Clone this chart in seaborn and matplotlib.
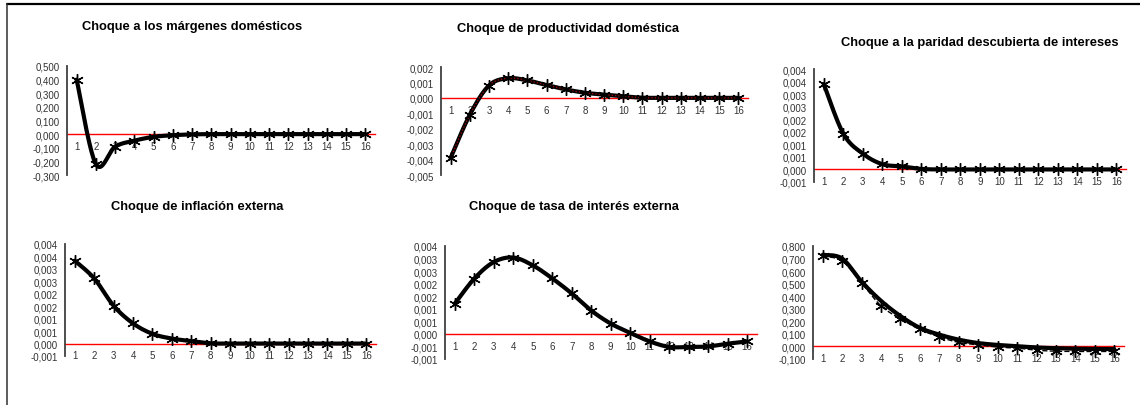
import numpy as np
import seaborn as sns
import matplotlib.pyplot as plt
from matplotlib.lines import Line2D

sns.set_style('white')
plt.rcParams['font.family'] = ['Liberation Sans', 'DejaVu Sans']

periods = list(range(1, 17))

titles = ['Choque a los márgenes domésticos',
          'Choque de productividad doméstica',
          'Choque a la paridad descubierta de intereses',
          'Choque de inflación externa',
          'Choque de tasa de interés externa',
          '']

margenes = [0.400, -0.220, -0.092, -0.048, -0.020, -0.008, -0.002, 0.000,
            0.000, 0.000, 0.000, 0.000, 0.000, 0.000, 0.000, 0.000]
productividad = [-0.0039, -0.0011, 0.0008, 0.00127, 0.00113, 0.00083, 0.00055, 0.00033,
                 0.00021, 0.0001, 0.00001, 0.0, 0.0, 0.0, 0.0, 0.0]
paridad = [0.0034, 0.00143, 0.00063, 0.00021, 0.00012, 0.00002, 0.0, 0.0,
           0.0, 0.0, 0.0, 0.0, 0.0, 0.0, 0.0, 0.0]
inflacion = [0.00333, 0.00262, 0.00152, 0.00081, 0.00039, 0.0002, 0.0001, 0.00001,
             0.0, 0.0, 0.0, 0.0, 0.0, 0.0, 0.0, 0.0]
tasa = [0.0012, 0.0022, 0.00286, 0.00304, 0.00273, 0.00221, 0.00161, 0.00093,
        0.00041, 0.00004, -0.0003, -0.00052, -0.00052, -0.0005, -0.00039, -0.0003]
ultimo_a = [0.73, 0.70, 0.516, 0.363, 0.242, 0.148, 0.094, 0.054,
            0.027, 0.012, 0.002, -0.008, -0.014, -0.018, -0.020, -0.021]
ultimo_b = [0.72, 0.68, 0.505, 0.323, 0.220, 0.135, 0.076, 0.032,
            0.013, -0.005, -0.013, -0.030, -0.038, -0.040, -0.040, -0.040]

# y ticks (Excel rounds labels to 3 decimals, hence the repeats)
ticks_a = [-0.3, -0.2, -0.1, 0.0, 0.1, 0.2, 0.3, 0.4, 0.5]
labels_a = ['-0,300', '-0,200', '-0,100', '0,000', '0,100', '0,200', '0,300', '0,400', '0,500']
ticks_b = [-0.005, -0.004, -0.003, -0.002, -0.001, 0.0, 0.001, 0.002]
labels_b = ['-0,005', '-0,004', '-0,003', '-0,002', '-0,001', '0,000', '0,001', '0,002']
ticks_c = [-0.0005, 0.0, 0.0005, 0.001, 0.0015, 0.002, 0.0025, 0.003, 0.0035, 0.004]
labels_c = ['-0,001', '0,000', '0,001', '0,001', '0,002', '0,002', '0,003', '0,003', '0,004', '0,004']
ticks_d = [-0.001, -0.0005, 0.0, 0.0005, 0.001, 0.0015, 0.002, 0.0025, 0.003, 0.0035]
labels_d = ['-0,001', '-0,001', '0,000', '0,001', '0,001', '0,002', '0,002', '0,003', '0,003', '0,004']
ticks_e = [-0.1, 0.0, 0.1, 0.2, 0.3, 0.4, 0.5, 0.6, 0.7, 0.8]
labels_e = ['-0,100', '0,000', '0,100', '0,200', '0,300', '0,400', '0,500', '0,600', '0,700', '0,800']


def smooth(x, y, n=24):
    # Excel-style smoothed line (cubic bezier, tension 1/6)
    p = np.column_stack([x, y]).astype(float)
    ext = np.vstack([p[0], p, p[-1]])
    t = np.linspace(0, 1, n)[:, None]
    out = []
    for i in range(len(p) - 1):
        p0, p1 = ext[i + 1], ext[i + 2]
        c1 = p0 + (ext[i + 2] - ext[i]) / 6
        c2 = p1 - (ext[i + 3] - ext[i + 1]) / 6
        seg = ((1 - t) ** 3) * p0 + 3 * ((1 - t) ** 2) * t * c1 + 3 * (1 - t) * t ** 2 * c2 + t ** 3 * p1
        out.append(seg if i == 0 else seg[1:])
    out = np.vstack(out)
    return out[:, 0], out[:, 1]


W, H = 1140, 406
fig = plt.figure(figsize=(W / 100, H / 100), dpi=100)

# pixel boxes: left, right, top, bottom
boxes = [(67, 375, 67, 176), (441, 748, 68, 176), (814, 1126, 70, 183),
         (65, 376, 245, 357), (445, 757, 247, 360), (813, 1124, 247, 360)]
series = [margenes, productividad, paridad, inflacion, tasa, ultimo_a]
yt = [(ticks_a, labels_a), (ticks_b, labels_b), (ticks_c, labels_c),
      (ticks_c, labels_c), (ticks_d, labels_d), (ticks_e, labels_e)]
title_pos = [(192, 27), (568, 29), (980, 43), (197, 207), (574, 207), None]

star = (6, 2, 0)

for i in range(6):
    l, r, t, b = boxes[i]
    ax = fig.add_axes([l / W, 1 - b / H, (r - l) / W, (b - t) / H])
    ax.patch.set_alpha(0)
    ticks, labels = yt[i]
    xs, ys = smooth(periods, series[i])
    sns.lineplot(x=xs, y=ys, ax=ax, color='black', lw=3, sort=False, estimator=None)
    if i == 1:
        sns.lineplot(x=xs, y=ys, ax=ax, color='#b00000', lw=0.9, ls=':', sort=False, estimator=None)
    if i == 5:
        xb, yb = smooth(periods, ultimo_b)
        sns.lineplot(x=xb, y=yb, ax=ax, color='black', lw=1, ls='--', sort=False, estimator=None)
        sns.lineplot(x=periods, y=ultimo_b, ax=ax, color='black', ls='none',
                     marker=star, markersize=9, mew=1, mec='black')
    else:
        sns.lineplot(x=periods, y=series[i], ax=ax, color='black', ls='none',
                     marker=star, markersize=9, mew=1, mec='black')
    ax.set_xlim(0.5, 16.5)
    ax.set_ylim(ticks[0], ticks[-1])
    ax.set_yticks(ticks)
    ax.set_yticklabels(labels)
    ax.set_xticks(periods)
    ax.set_xticklabels([str(p) for p in periods])
    for s in ['top', 'right']:
        ax.spines[s].set_visible(False)
    ax.spines['left'].set_color('#404040')
    ax.spines['left'].set_linewidth(1.3)
    ax.spines['bottom'].set_position(('data', 0))
    ax.spines['bottom'].set_color('red')
    ax.spines['bottom'].set_linewidth(1)
    ax.spines['bottom'].set_zorder(0.5)
    ax.tick_params(axis='both', length=0, labelsize=7, colors='#333333')
    ax.tick_params(axis='y', pad=5)
    ax.tick_params(axis='x', pad=5)
    ax.set_xlabel('')
    ax.set_ylabel('')
    ax.grid(False)
    if title_pos[i] is not None:
        tx, ty = title_pos[i]
        fig.text(tx / W, 1 - ty / H, titles[i], ha='center', va='center',
                 fontsize=9.3, fontweight='bold', color='black')

# outer frame (only top and left visible)
fig.add_artist(Line2D([7 / W, 1], [1 - 5 / H, 1 - 5 / H], color='black', lw=1.6))
fig.add_artist(Line2D([7 / W, 7 / W], [0, 1 - 5 / H], color='#303030', lw=1.1))

fig.savefig('out.png', dpi=100)
